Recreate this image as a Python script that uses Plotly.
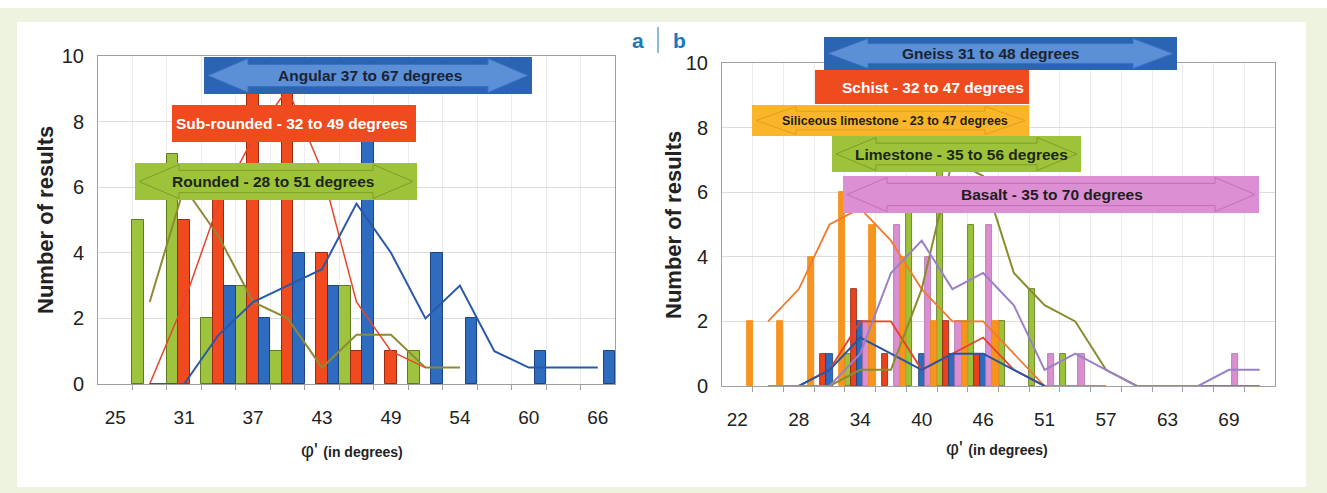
import pandas as pd
import plotly.graph_objects as go

W, H = 1327, 493

# ---- panel a: particle shape ----
a_bins = [25, 28, 31, 34, 37, 40, 43, 46, 49, 51, 54, 57, 60, 63, 66]
rounded = [0, 5, 7, 2, 3, 1, 0, 3, 0, 1, 0]
sub_rounded = [0, 0, 5, 6, 9, 9, 4, 1, 1, 0]
angular = [0, 0, 0, 3, 2, 4, 3, 8, 0, 4, 2, 0, 1, 0, 1]

# ---- panel b: rock type ----
b_bins = [22, 25, 28, 31, 34, 37, 40, 43, 46, 48, 51, 54, 57, 60, 63, 66, 69, 72]
limestone = [0, 0, 0, 0, 1, 0, 6, 8, 5, 2, 3, 1, 0, 0, 0, 0, 0, 0]
schist = [0, 0, 0, 1, 3, 1, 0, 2, 1, 0, 0]
gneiss = [0, 0, 0, 1, 2, 0, 1, 1, 1, 0, 0]
basalt = [0, 0, 0, 0, 2, 5, 4, 2, 5, 0, 1, 1, 0, 0, 0, 0, 1, 0]
siliceous = [2, 2, 4, 6, 5, 4, 2, 2, 2, 0, 0, 0, 0]

y_ticks = [0, 2, 4, 6, 8, 10]

FONT = "Arial, Liberation Sans, sans-serif"


def px(x):
    return x / W


def py(y):
    return 1 - y / H


def moving_avg(vals):
    s = pd.Series(vals, dtype=float).rolling(2).mean()
    xs = [i for i, v in enumerate(s) if pd.notna(v)]
    return xs, [s[i] for i in xs]


def nonzero(vals):
    # empty bins are left undrawn so no outline sits on the baseline
    return [v if v else None for v in vals]


fig = go.Figure()

# bars, panel a
for name, vals, fill, edge in [
    ("Rounded", rounded, "#9dc43c", "#5f7a1c"),
    ("Sub-rounded", sub_rounded, "#f04a1e", "#9a2a10"),
    ("Angular", angular, "#2e6cc0", "#1d4480"),
]:
    fig.add_trace(go.Bar(x=list(range(len(vals))), y=nonzero(vals), name=name,
                         marker=dict(color=fill, line=dict(color=edge, width=1)),
                         xaxis="x", yaxis="y", showlegend=False))

# bars, panel b
for name, vals, fill, edge in [
    ("Limestone", limestone, "#9cc23a", "#55701a"),
    ("Schist", schist, "#e8421e", "#8c2410"),
    ("Gneiss", gneiss, "#2e6cc0", "#1b3f7a"),
    ("Basalt", basalt, "#d98fd0", "#b070a8"),
    ("Siliceous limestone", siliceous, "#f7941d", "#f08a10"),
]:
    fig.add_trace(go.Bar(x=list(range(len(vals))), y=nonzero(vals), name=name,
                         marker=dict(color=fill, line=dict(color=edge, width=0.8)),
                         xaxis="x2", yaxis="y2", showlegend=False))

# two-period moving-average trend lines
for vals, col, w, ax, ay in [
    (rounded, "#8c8a38", 2, "x", "y"),
    (sub_rounded, "#e8452c", 1.5, "x", "y"),
    (angular, "#2a58a8", 2, "x", "y"),
    (siliceous, "#f07a2e", 1.8, "x2", "y2"),
    (schist, "#e8402a", 1.8, "x2", "y2"),
    (gneiss, "#2a55a5", 2, "x2", "y2"),
    (limestone, "#8a8c2e", 2, "x2", "y2"),
    (basalt, "#9a80c8", 2, "x2", "y2"),
]:
    xs, ys = moving_avg(vals)
    fig.add_trace(go.Scatter(x=xs, y=ys, mode="lines", line=dict(color=col, width=w),
                             xaxis=ax, yaxis=ay, showlegend=False, hoverinfo="skip"))


def xaxis_cfg(domain, bins, anchor):
    n = len(bins)
    return dict(
        domain=domain, anchor=anchor, range=[-0.5, n - 0.5], automargin=False,
        tickmode="array", tickvals=list(range(0, n, 2)),
        ticktext=[str(bins[i]) for i in range(0, n, 2)],
        showgrid=False, zeroline=False, ticks="",
        showline=True, linecolor="#a0a0a0", linewidth=1, mirror=True,
        tickfont=dict(family=FONT, size=19, color="#222222"),
        ticklabelstandoff=16,
        minor=dict(tickmode="array", tickvals=[i + 0.5 for i in range(n - 1)],
                   showgrid=True, gridcolor="#ebebeb", gridwidth=1,
                   ticks="outside", ticklen=5, tickcolor="#a0a0a0"),
    )


def yaxis_cfg(domain, anchor):
    return dict(
        domain=domain, anchor=anchor, range=[0, 10], automargin=False,
        tickmode="array", tickvals=y_ticks,
        showgrid=True, gridcolor="#dcdcdc", zeroline=False,
        showline=True, linecolor="#a0a0a0", linewidth=1, mirror=True,
        ticks="", tickfont=dict(family=FONT, size=20, color="#222222"),
        ticklabelstandoff=9,
    )


shapes = []
annotations = []

# white page edge and inner white panel inside the cream frame
shapes.append(dict(type="rect", xref="paper", yref="paper", layer="below",
                   x0=0, x1=1, y0=py(8), y1=1,
                   fillcolor="white", line=dict(width=0)))
shapes.append(dict(type="rect", xref="paper", yref="paper", layer="below",
                   x0=px(17), x1=px(1306), y0=py(487), y1=py(22),
                   fillcolor="white", line=dict(width=0)))


def range_box(x0, y0, x1, y1, fill, arrow_fill, arrow_line, text, tcolor,
              tx, size=15.5):
    shapes.append(dict(type="rect", xref="paper", yref="paper", layer="above",
                       x0=px(x0), x1=px(x1), y0=py(y1), y1=py(y0),
                       fillcolor=fill, line=dict(width=0)))
    h = y1 - y0
    ym = (y0 + y1) / 2
    head = min(40, (x1 - x0) * 0.2)
    sy0, sy1 = y0 + h * 0.2, y1 - h * 0.2
    hy0, hy1 = y0 + 1.5, y1 - 1.5
    a, b = x0 + 4, x1 - 4
    pts = [(a, ym), (a + head, hy0), (a + head, sy0), (b - head, sy0), (b - head, hy0),
           (b, ym), (b - head, hy1), (b - head, sy1), (a + head, sy1), (a + head, hy1)]
    path = "M " + " L ".join(f"{px(x):.5f},{py(y):.5f}" for x, y in pts) + " Z"
    shapes.append(dict(type="path", xref="paper", yref="paper", layer="above",
                       path=path, fillcolor=arrow_fill,
                       line=dict(color=arrow_line, width=1)))
    annotations.append(dict(xref="paper", yref="paper", x=px(tx), y=py(ym),
                            text=f"<b>{text}</b>", showarrow=False,
                            xanchor="center", yanchor="middle",
                            font=dict(family=FONT, size=size, color=tcolor)))


# panel a range boxes
range_box(204, 57, 532, 94, "#2c64b4", "#5b8fd6", "#3a70c0",
          "Angular 37 to 67 degrees", "#1c2333", 370)
range_box(172, 105, 416, 142, "#ef4b1f", "#ef4b1f", "#ef4b1f",
          "Sub-rounded - 32 to 49 degrees", "white", 292)
range_box(135, 163, 417, 200, "#9dc33b", "#9dc33b", "#7f9c2c",
          "Rounded - 28 to 51 degrees", "#1e2614", 273)

# panel b range boxes
range_box(824, 37, 1177, 70, "#2c64b4", "#5b8fd6", "#3a70c0",
          "Gneiss 31 to 48 degrees", "#1c2333", 991)
range_box(815, 70, 1029, 104, "#ef4b1f", "#ef4b1f", "#ef4b1f",
          "Schist - 32 to 47 degrees", "white", 933)
range_box(752, 105, 1029, 136, "#fbb52a", "#fbb52a", "#e89a20",
          "Siliceous limestone - 23 to 47 degrees", "#1e1e1e", 895, size=12.5)
range_box(832, 136, 1081, 172, "#9dc33b", "#9dc33b", "#7f9c2c",
          "Limestone - 35 to 56 degrees", "#1e2614", 961)
range_box(843, 176, 1259, 213, "#dc90d3", "#dc90d3", "#c070b8",
          "Basalt - 35 to 70 degrees", "#1e1e1e", 1052)

# axis titles
for x, y in [(46, 220), (673, 225)]:
    annotations.append(dict(xref="paper", yref="paper", x=px(x), y=py(y),
                            text="<b>Number of results</b>", textangle=-90,
                            showarrow=False, xanchor="center", yanchor="middle",
                            font=dict(family=FONT, size=22, color="#222222")))
for x, y in [(352, 450), (997, 448)]:
    annotations.append(dict(xref="paper", yref="paper", x=px(x), y=py(y),
                            text="φ' <b><span style='font-size:14px'>(in degrees)</span></b>",
                            showarrow=False, xanchor="center", yanchor="middle",
                            font=dict(family=FONT, size=20, color="#222222")))

# panel letters
for x, t in [(638, "a"), (679, "b")]:
    annotations.append(dict(xref="paper", yref="paper", x=px(x), y=py(40),
                            text=f"<b>{t}</b>", showarrow=False,
                            xanchor="center", yanchor="middle",
                            font=dict(family=FONT, size=21, color="#1a78c2")))
shapes.append(dict(type="line", xref="paper", yref="paper",
                   x0=px(658), x1=px(658), y0=py(27), y1=py(53),
                   line=dict(color="#1a78c2", width=1)))

fig.update_layout(
    width=W, height=H,
    margin=dict(l=0, r=0, t=0, b=0, pad=0, autoexpand=False),
    paper_bgcolor="#eef3df", plot_bgcolor="white",
    barmode="group", bargap=0, bargroupgap=0,
    xaxis=xaxis_cfg([px(98), px(615)], a_bins, "y"),
    yaxis=yaxis_cfg([py(384), py(56)], "x"),
    xaxis2=xaxis_cfg([px(722), px(1275)], b_bins, "y2"),
    yaxis2=yaxis_cfg([py(386), py(63)], "x2"),
    shapes=shapes, annotations=annotations,
    font=dict(family=FONT),
)

fig.write_html("out.html")
